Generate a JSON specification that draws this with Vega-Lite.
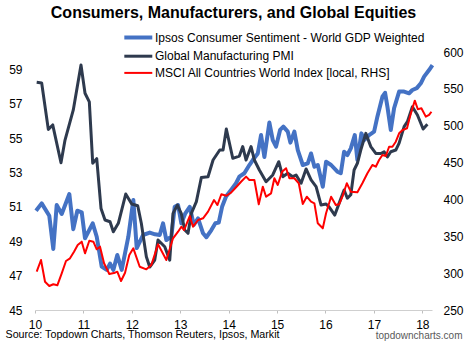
{
  "$schema": "https://vega.github.io/schema/vega-lite/v6.json",
  "width": 397,
  "height": 258,
  "autosize": {"type": "none"},
  "padding": {"left": 35, "top": 52, "right": 38, "bottom": 41},
  "background": "white",
  "config": {"font": "Liberation Sans", "view": {"stroke": null}},
  "title": {"text": "Consumers, Manufacturers, and Global Equities", "fontSize": 16, "fontWeight": "bold", "color": "#000000", "anchor": "middle", "frame": "group", "offset": 9},
  "data": {"values": [
    {"s":"I","x":10.021,"v":50.77},{"s":"I","x":10.138,"v":51.2},{"s":"I","x":10.295,"v":50.48},{"s":"I","x":10.378,"v":48.55},{"s":"I","x":10.448,"v":51.1},{"s":"I","x":10.552,"v":50.58},{"s":"I","x":10.709,"v":51.74},{"s":"I","x":10.791,"v":49.7},{"s":"I","x":10.874,"v":50.77},{"s":"I","x":10.965,"v":50.68},{"s":"I","x":11.033,"v":49.17},{"s":"I","x":11.192,"v":50.04},{"s":"I","x":11.275,"v":49.26},{"s":"I","x":11.378,"v":47.52},{"s":"I","x":11.481,"v":47.33},{"s":"I","x":11.55,"v":47.7},{"s":"I","x":11.618,"v":47.33},{"s":"I","x":11.7,"v":48.2},{"s":"I","x":11.791,"v":47.33},{"s":"I","x":11.928,"v":49.26},{"s":"I","x":12.031,"v":51.4},{"s":"I","x":12.101,"v":48.6},{"s":"I","x":12.231,"v":49.36},{"s":"I","x":12.37,"v":49.5},{"s":"I","x":12.479,"v":49.4},{"s":"I","x":12.576,"v":49.36},{"s":"I","x":12.645,"v":50.04},{"s":"I","x":12.713,"v":49.07},{"s":"I","x":12.816,"v":49.26},{"s":"I","x":12.886,"v":51.0},{"s":"I","x":12.955,"v":51.1},{"s":"I","x":13.023,"v":50.04},{"s":"I","x":13.105,"v":50.62},{"s":"I","x":13.196,"v":51.0},{"s":"I","x":13.279,"v":49.94},{"s":"I","x":13.368,"v":50.33},{"s":"I","x":13.471,"v":49.46},{"s":"I","x":13.539,"v":49.23},{"s":"I","x":13.643,"v":49.65},{"s":"I","x":13.725,"v":50.04},{"s":"I","x":13.795,"v":50.08},{"s":"I","x":13.864,"v":51.0},{"s":"I","x":13.946,"v":51.6},{"s":"I","x":14.05,"v":51.98},{"s":"I","x":14.153,"v":52.37},{"s":"I","x":14.221,"v":52.75},{"s":"I","x":14.324,"v":52.95},{"s":"I","x":14.428,"v":53.43},{"s":"I","x":14.498,"v":53.72},{"s":"I","x":14.601,"v":54.1},{"s":"I","x":14.669,"v":55.17},{"s":"I","x":14.738,"v":53.9},{"s":"I","x":14.841,"v":55.9},{"s":"I","x":14.911,"v":54.88},{"s":"I","x":14.979,"v":54.5},{"s":"I","x":15.062,"v":55.47},{"s":"I","x":15.13,"v":55.66},{"s":"I","x":15.221,"v":55.37},{"s":"I","x":15.275,"v":54.73},{"s":"I","x":15.357,"v":55.37},{"s":"I","x":15.428,"v":54.3},{"s":"I","x":15.531,"v":53.43},{"s":"I","x":15.634,"v":53.53},{"s":"I","x":15.702,"v":54.1},{"s":"I","x":15.771,"v":53.33},{"s":"I","x":15.841,"v":53.43},{"s":"I","x":15.944,"v":52.17},{"s":"I","x":16.012,"v":53.62},{"s":"I","x":16.116,"v":53.43},{"s":"I","x":16.246,"v":53.04},{"s":"I","x":16.316,"v":52.95},{"s":"I","x":16.384,"v":54.2},{"s":"I","x":16.452,"v":54.01},{"s":"I","x":16.523,"v":54.4},{"s":"I","x":16.605,"v":55.17},{"s":"I","x":16.659,"v":53.72},{"s":"I","x":16.742,"v":55.27},{"s":"I","x":16.798,"v":54.88},{"s":"I","x":16.901,"v":55.17},{"s":"I","x":17.004,"v":55.37},{"s":"I","x":17.072,"v":56.24},{"s":"I","x":17.176,"v":57.4},{"s":"I","x":17.231,"v":57.63},{"s":"I","x":17.279,"v":56.82},{"s":"I","x":17.349,"v":55.47},{"s":"I","x":17.417,"v":56.73},{"s":"I","x":17.521,"v":57.7},{"s":"I","x":17.624,"v":57.7},{"s":"I","x":17.727,"v":57.6},{"s":"I","x":17.795,"v":57.79},{"s":"I","x":17.886,"v":57.9},{"s":"I","x":17.969,"v":58.18},{"s":"I","x":18.037,"v":58.57},{"s":"I","x":18.14,"v":58.95},{"s":"I","x":18.209,"v":59.24},
    {"s":"G","x":10.035,"v":58.24},{"s":"G","x":10.138,"v":58.2},{"s":"G","x":10.275,"v":55.5},{"s":"G","x":10.366,"v":55.76},{"s":"G","x":10.537,"v":53.56},{"s":"G","x":10.62,"v":54.88},{"s":"G","x":10.791,"v":56.63},{"s":"G","x":10.95,"v":59.24},{"s":"G","x":11.033,"v":57.6},{"s":"G","x":11.122,"v":57.1},{"s":"G","x":11.192,"v":53.53},{"s":"G","x":11.275,"v":53.8},{"s":"G","x":11.364,"v":50.9},{"s":"G","x":11.446,"v":50.23},{"s":"G","x":11.55,"v":50.13},{"s":"G","x":11.618,"v":49.55},{"s":"G","x":11.721,"v":50.04},{"s":"G","x":11.874,"v":51.74},{"s":"G","x":11.998,"v":51.16},{"s":"G","x":12.122,"v":51.06},{"s":"G","x":12.196,"v":50.04},{"s":"G","x":12.3,"v":48.1},{"s":"G","x":12.37,"v":47.5},{"s":"G","x":12.473,"v":47.9},{"s":"G","x":12.541,"v":49.07},{"s":"G","x":12.68,"v":48.68},{"s":"G","x":12.783,"v":47.9},{"s":"G","x":12.851,"v":50.62},{"s":"G","x":12.94,"v":51.1},{"s":"G","x":13.023,"v":50.6},{"s":"G","x":13.093,"v":49.65},{"s":"G","x":13.161,"v":49.46},{"s":"G","x":13.229,"v":50.62},{"s":"G","x":13.333,"v":51.3},{"s":"G","x":13.436,"v":52.7},{"s":"G","x":13.574,"v":52.75},{"s":"G","x":13.678,"v":53.72},{"s":"G","x":13.816,"v":54.3},{"s":"G","x":13.884,"v":54.3},{"s":"G","x":13.952,"v":55.52},{"s":"G","x":14.085,"v":53.82},{"s":"G","x":14.221,"v":53.95},{"s":"G","x":14.291,"v":54.5},{"s":"G","x":14.36,"v":53.72},{"s":"G","x":14.463,"v":54.5},{"s":"G","x":14.531,"v":53.72},{"s":"G","x":14.634,"v":53.14},{"s":"G","x":14.773,"v":52.46},{"s":"G","x":14.911,"v":52.85},{"s":"G","x":15.035,"v":53.62},{"s":"G","x":15.118,"v":52.75},{"s":"G","x":15.221,"v":52.95},{"s":"G","x":15.324,"v":52.75},{"s":"G","x":15.393,"v":52.85},{"s":"G","x":15.496,"v":52.37},{"s":"G","x":15.599,"v":53.2},{"s":"G","x":15.702,"v":52.56},{"s":"G","x":15.806,"v":52.17},{"s":"G","x":15.909,"v":51.1},{"s":"G","x":16.012,"v":51.16},{"s":"G","x":16.074,"v":51.0},{"s":"G","x":16.192,"v":50.52},{"s":"G","x":16.281,"v":51.2},{"s":"G","x":16.384,"v":51.98},{"s":"G","x":16.452,"v":51.5},{"s":"G","x":16.523,"v":51.7},{"s":"G","x":16.591,"v":53.14},{"s":"G","x":16.659,"v":53.53},{"s":"G","x":16.729,"v":54.3},{"s":"G","x":16.833,"v":55.27},{"s":"G","x":16.936,"v":54.5},{"s":"G","x":17.039,"v":54.1},{"s":"G","x":17.143,"v":54.1},{"s":"G","x":17.211,"v":54.2},{"s":"G","x":17.279,"v":53.9},{"s":"G","x":17.349,"v":54.2},{"s":"G","x":17.452,"v":54.3},{"s":"G","x":17.521,"v":54.7},{"s":"G","x":17.624,"v":55.66},{"s":"G","x":17.692,"v":55.95},{"s":"G","x":17.795,"v":56.82},{"s":"G","x":17.899,"v":56.34},{"s":"G","x":18.017,"v":55.52},{"s":"G","x":18.105,"v":55.8},
    {"s":"M","x":10.035,"v":302},{"s":"M","x":10.124,"v":317.8},{"s":"M","x":10.207,"v":288.4},{"s":"M","x":10.295,"v":282.6},{"s":"M","x":10.378,"v":284.9},{"s":"M","x":10.461,"v":283.5},{"s":"M","x":10.552,"v":299.8},{"s":"M","x":10.64,"v":316.5},{"s":"M","x":10.723,"v":320.1},{"s":"M","x":10.806,"v":329.1},{"s":"M","x":10.882,"v":338.2},{"s":"M","x":10.965,"v":342.7},{"s":"M","x":11.033,"v":326.9},{"s":"M","x":11.122,"v":344},{"s":"M","x":11.205,"v":342.7},{"s":"M","x":11.275,"v":332.3},{"s":"M","x":11.343,"v":335.9},{"s":"M","x":11.426,"v":313.4},{"s":"M","x":11.535,"v":298.8},{"s":"M","x":11.653,"v":300.6},{"s":"M","x":11.7,"v":302},{"s":"M","x":11.777,"v":289.3},{"s":"M","x":11.86,"v":300.6},{"s":"M","x":11.948,"v":324.6},{"s":"M","x":12.031,"v":333.7},{"s":"M","x":12.163,"v":308.7},{"s":"M","x":12.3,"v":305.2},{"s":"M","x":12.403,"v":311},{"s":"M","x":12.541,"v":339.1},{"s":"M","x":12.713,"v":317.8},{"s":"M","x":12.851,"v":347.3},{"s":"M","x":12.955,"v":356.2},{"s":"M","x":13.023,"v":363},{"s":"M","x":13.079,"v":358.5},{"s":"M","x":13.196,"v":377.5},{"s":"M","x":13.264,"v":363},{"s":"M","x":13.368,"v":372.1},{"s":"M","x":13.471,"v":374.4},{"s":"M","x":13.574,"v":383.4},{"s":"M","x":13.698,"v":399.2},{"s":"M","x":13.767,"v":392.4},{"s":"M","x":13.849,"v":407},{"s":"M","x":13.952,"v":405},{"s":"M","x":14.05,"v":409.2},{"s":"M","x":14.153,"v":416.5},{"s":"M","x":14.256,"v":424},{"s":"M","x":14.36,"v":430.9},{"s":"M","x":14.428,"v":426.4},{"s":"M","x":14.531,"v":426.4},{"s":"M","x":14.622,"v":393.4},{"s":"M","x":14.705,"v":417.3},{"s":"M","x":14.773,"v":403.7},{"s":"M","x":14.876,"v":408.3},{"s":"M","x":14.944,"v":428.7},{"s":"M","x":15.014,"v":419.6},{"s":"M","x":15.103,"v":437.6},{"s":"M","x":15.186,"v":442.3},{"s":"M","x":15.254,"v":428.7},{"s":"M","x":15.357,"v":428.7},{"s":"M","x":15.448,"v":421.9},{"s":"M","x":15.531,"v":393.8},{"s":"M","x":15.614,"v":403.7},{"s":"M","x":15.702,"v":396.9},{"s":"M","x":15.771,"v":394.7},{"s":"M","x":15.841,"v":367.6},{"s":"M","x":15.944,"v":360.8},{"s":"M","x":16.012,"v":381.2},{"s":"M","x":16.116,"v":403.7},{"s":"M","x":16.213,"v":392.4},{"s":"M","x":16.281,"v":393.4},{"s":"M","x":16.349,"v":403.7},{"s":"M","x":16.44,"v":421.9},{"s":"M","x":16.523,"v":410.5},{"s":"M","x":16.659,"v":409.6},{"s":"M","x":16.762,"v":421.9},{"s":"M","x":16.866,"v":435.5},{"s":"M","x":16.969,"v":446.7},{"s":"M","x":17.039,"v":444.4},{"s":"M","x":17.107,"v":453.5},{"s":"M","x":17.176,"v":460.3},{"s":"M","x":17.246,"v":458.9},{"s":"M","x":17.314,"v":471.5},{"s":"M","x":17.382,"v":471.5},{"s":"M","x":17.452,"v":478.3},{"s":"M","x":17.521,"v":489.7},{"s":"M","x":17.593,"v":494.2},{"s":"M","x":17.684,"v":496.5},{"s":"M","x":17.727,"v":507.8},{"s":"M","x":17.764,"v":516.9},{"s":"M","x":17.845,"v":534},{"s":"M","x":17.907,"v":522.3},{"s":"M","x":17.981,"v":523.6},{"s":"M","x":18.072,"v":512.3},{"s":"M","x":18.14,"v":514.6},{"s":"M","x":18.188,"v":519}
  ]},
  "encoding": {
    "x": {"field": "x", "type": "quantitative",
      "scale": {"domain": [10, 18.2], "nice": false, "zero": false},
      "axis": {"values": [10,11,12,13,14,15,16,17,18], "format": "d", "grid": false,
        "domainColor": "#cfcfcf", "domainWidth": 1, "tickColor": "#bfbfbf", "tickSize": 3,
        "labelFontSize": 12, "labelColor": "#000000", "labelPadding": 6, "labelFlush": false,
        "title": "Source: Topdown Charts, Thomson Reuters, Ipsos, Markit",
        "titleFontSize": 10.7, "titleFontWeight": "normal", "titleColor": "#000000",
        "titleAnchor": "start", "titleAlign": "left", "titleBaseline": "alphabetic", "titleX": -30, "titleY": 27}},
    "color": {"field": "s", "type": "ordinal",
      "scale": {"domain": ["I","G","M"], "range": ["#4472C4","#2E3A4E","#FF0000"]},
      "legend": {"orient": "none", "legendX": 95.3, "legendY": -22.5, "title": null, "padding": 0,
        "symbolType": "M-2.33,0L2.33,0", "symbolSize": 144, "rowPadding": 3.2, "labelOffset": 8.7, "labelLimit": 400,
        "labelFontSize": 12, "labelColor": "#000000",
        "labelExpr": "datum.label === 'I' ? 'Ipsos Consumer Sentiment - World GDP Weighted' : datum.label === 'G' ? 'Global Manufacturing PMI' : 'MSCI All Countries World Index [local, RHS]'"}},
    "strokeWidth": {"field": "s", "type": "ordinal",
      "scale": {"type": "ordinal", "domain": ["I","G","M"], "range": [4, 3, 2]},
      "legend": {"orient": "none", "legendX": 95.3, "legendY": -22.5, "title": null, "padding": 0,
        "symbolType": "M-2.33,0L2.33,0", "symbolSize": 144, "rowPadding": 3.2, "labelOffset": 8.7, "labelLimit": 400,
        "labelFontSize": 12, "labelColor": "#000000",
        "labelExpr": "datum.label === 'I' ? 'Ipsos Consumer Sentiment - World GDP Weighted' : datum.label === 'G' ? 'Global Manufacturing PMI' : 'MSCI All Countries World Index [local, RHS]'"}}
  },
  "layer": [
    {
      "encoding": {
        "y": {"field": "v", "type": "quantitative",
          "scale": {"domain": [45, 60], "nice": false, "zero": false},
          "axis": {"orient": "left", "values": [45,47,49,51,53,55,57,59], "grid": false, "domain": false, "ticks": false,
            "labelFontSize": 12, "labelColor": "#000000", "labelPadding": 13, "title": null}}
      },
      "layer": [
        {"transform": [{"filter": "datum.s === 'I'"}], "mark": {"type": "line", "strokeJoin": "round"}},
        {"transform": [{"filter": "datum.s === 'G'"}], "mark": {"type": "line", "strokeJoin": "round"}}
      ]
    },
    {
      "transform": [{"filter": "datum.s === 'M'"}],
      "mark": {"type": "line", "strokeJoin": "round"},
      "encoding": {
        "y": {"field": "v", "type": "quantitative",
          "scale": {"domain": [250, 600], "nice": false, "zero": false},
          "axis": {"orient": "right", "values": [250,300,350,400,450,500,550,600], "grid": false, "domain": false, "ticks": false,
            "labelFontSize": 12, "labelColor": "#000000", "labelPadding": 11,
            "title": "topdowncharts.com", "titleAngle": 0, "titleFontSize": 10, "titleFontWeight": "normal",
            "titleColor": "#595959", "titleAlign": "right", "titleBaseline": "alphabetic", "titleX": 30, "titleY": 286}}
      }
    }
  ],
  "resolve": {"scale": {"y": "independent"}}
}
